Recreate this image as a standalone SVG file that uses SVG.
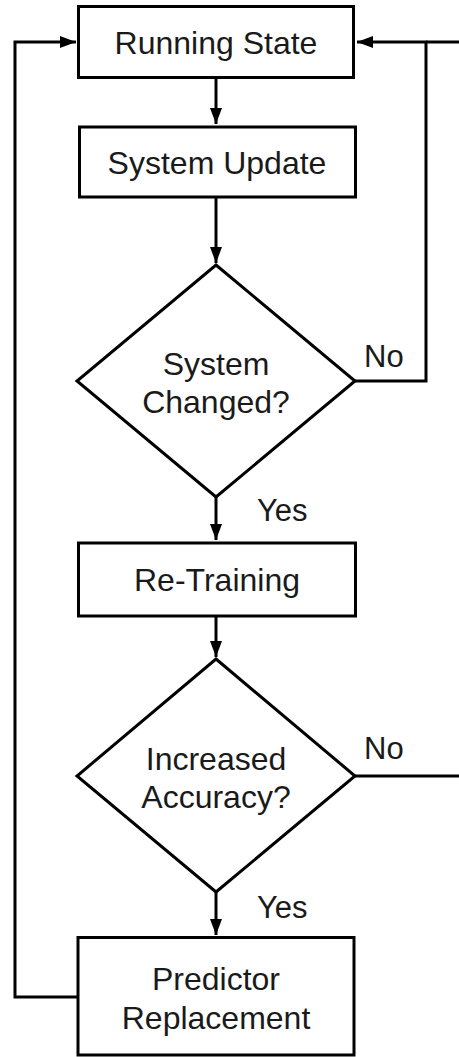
<svg xmlns="http://www.w3.org/2000/svg" width="459" height="1057" viewBox="0 0 459 1057">
<style>
.box{fill:#fff;stroke:#000;stroke-width:3}
.edge{fill:none;stroke:#000;stroke-width:3}
.t{font-family:"Liberation Sans",Arial,sans-serif;font-size:32px;fill:#1a1a1a;text-anchor:middle}
.lbl{font-family:"Liberation Sans",Arial,sans-serif;font-size:31px;fill:#1a1a1a}
</style>
<defs>
<marker id="ah" markerUnits="userSpaceOnUse" markerWidth="18" markerHeight="14" refX="16" refY="7" orient="auto">
<path d="M0,1 L16,7 L0,13 Z" fill="#000"/>
</marker>
</defs>
<rect width="459" height="1057" fill="#fff"/>
<g id="connectors">
<path class="edge" d="M216,78 V124" marker-end="url(#ah)"/>
<path class="edge" d="M216,197 V263" marker-end="url(#ah)"/>
<path class="edge" d="M355,381 H426 V42 H357" marker-end="url(#ah)"/>
<path class="edge" d="M459,42 H426"/>
<path class="edge" d="M216,497 V540" marker-end="url(#ah)"/>
<path class="edge" d="M216,616 V657" marker-end="url(#ah)"/>
<path class="edge" d="M355,776 H459"/>
<path class="edge" d="M216,892 V935" marker-end="url(#ah)"/>
<path class="edge" d="M78,997 H15 V42 H76" marker-end="url(#ah)"/>
<text class="lbl" x="364" y="367">No</text>
<text class="lbl" x="257" y="521">Yes</text>
<text class="lbl" x="364" y="759">No</text>
<text class="lbl" x="257" y="918">Yes</text>
</g>
<g id="running-state">
<rect class="box" x="78.5" y="6.5" width="275" height="71"/>
<text class="t" x="216" y="54">Running State</text>
</g>
<g id="system-update">
<rect class="box" x="79.5" y="127" width="276" height="70"/>
<text class="t" x="217" y="174">System Update</text>
</g>
<g id="system-changed">
<path class="box" d="M216,265 L355,381 L216,497 L77,381 Z"/>
<text class="t" x="216" y="375">System</text>
<text class="t" x="216" y="413">Changed?</text>
</g>
<g id="re-training">
<rect class="box" x="78.5" y="543" width="277" height="73"/>
<text class="t" x="217" y="591">Re-Training</text>
</g>
<g id="increased-accuracy">
<path class="box" d="M216,659 L355,776 L216,892 L77,776 Z"/>
<text class="t" x="216" y="770">Increased</text>
<text class="t" x="216" y="808">Accuracy?</text>
</g>
<g id="predictor-replacement">
<rect class="box" x="78" y="937.5" width="276" height="117.5"/>
<text class="t" x="216" y="990">Predictor</text>
<text class="t" x="216" y="1029">Replacement</text>
</g>
</svg>
